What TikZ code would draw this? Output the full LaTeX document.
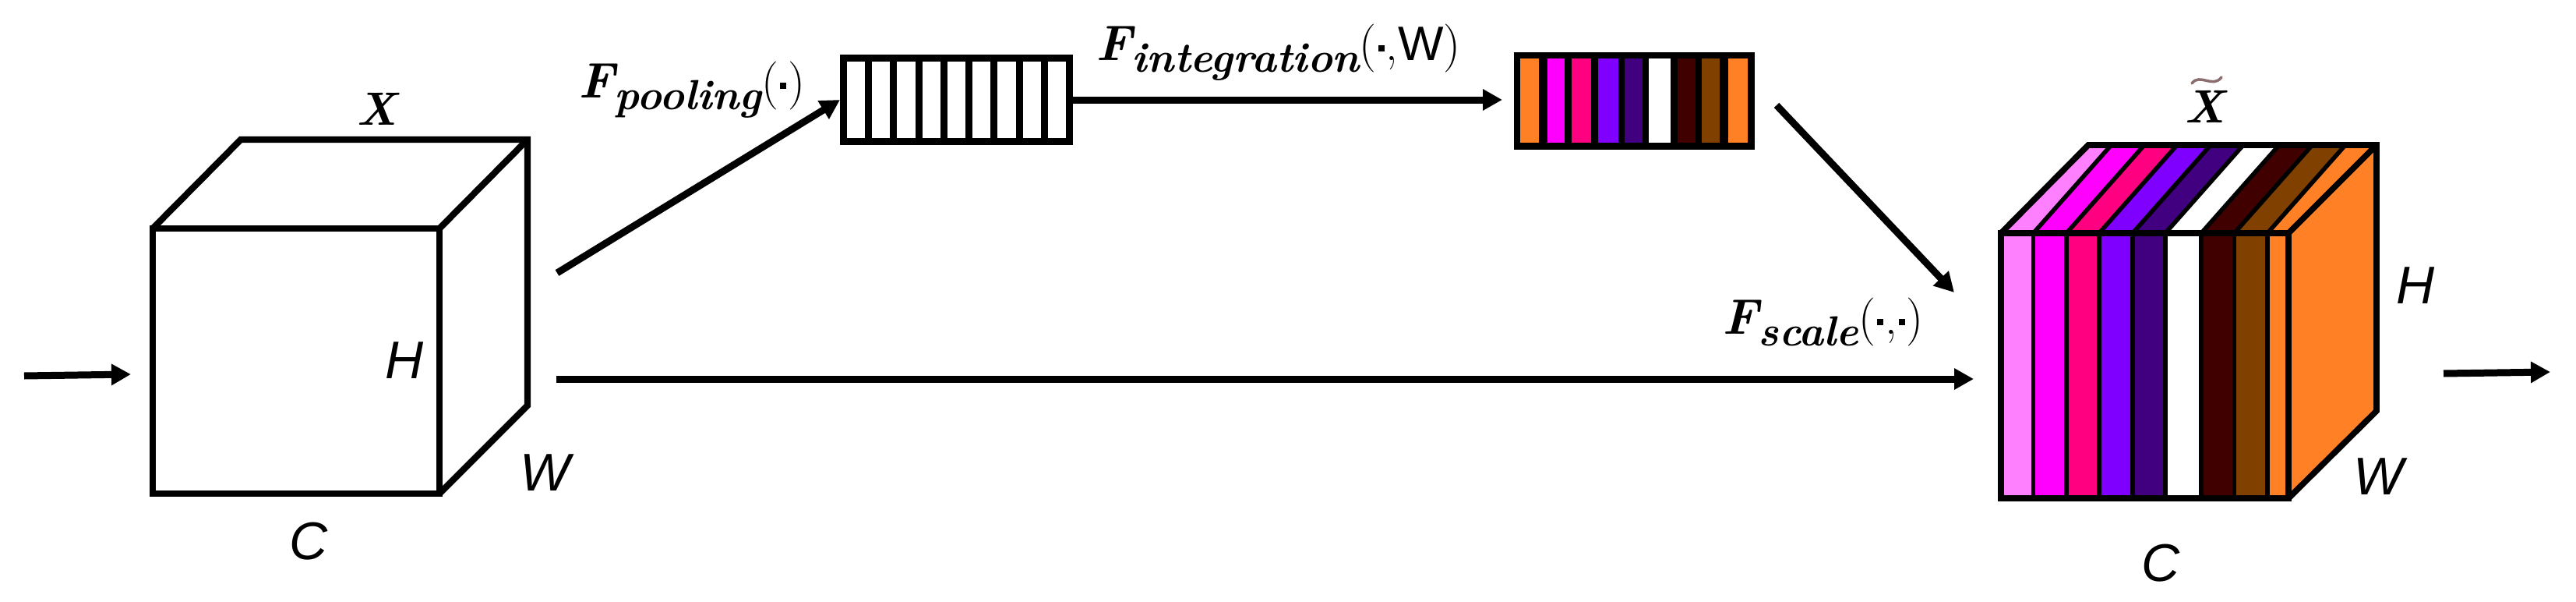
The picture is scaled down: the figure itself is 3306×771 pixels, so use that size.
\documentclass[tikz,border=0pt]{standalone}
\usepackage{fontspec}
\newfontfamily\lsans{Liberation Sans}
\usetikzlibrary{arrows.meta}
\definecolor{corange}{HTML}{FF8025}
\definecolor{cmag}{HTML}{FF00FF}
\definecolor{cpink}{HTML}{FF0080}
\definecolor{cviol}{HTML}{8000FF}
\definecolor{cindig}{HTML}{400080}
\definecolor{cdred}{HTML}{400000}
\definecolor{cbrown}{HTML}{804000}
\definecolor{clpink}{HTML}{FF80FF}
\definecolor{tildec}{HTML}{8C6E6E}
\newcommand{\Fbig}{\fontsize{62}{62}\selectfont}
\newcommand{\Fsml}{\fontsize{54}{54}\selectfont}
\newcommand{\Flabel}[2]{{\fontsize{64}{64}\selectfont\bfseries\itshape F}\raisebox{-15pt}{\Fsml\bfseries\itshape #1}{\Fbig(#2)}}
\newcommand{\cdotb}{\kern2pt\raisebox{11pt}{\rule{8pt}{8pt}}\kern2pt}
\tikzset{
  cubeA/.style={line width=8.3pt, line join=miter},
  cubeB/.style={line width=7.7pt, line join=miter},
  sepB/.style={line width=5.5pt},
  arr/.style={line width=9pt, -{Triangle[length=25pt,width=26pt]}},
  dimlab/.style={font=\lsans\itshape\fontsize{68}{68}\selectfont, inner sep=0},
  xlab/.style={font=\bfseries\itshape\fontsize{60}{60}\selectfont, inner sep=0},
  flab/.style={inner sep=0, anchor=base west},
  tildestroke/.style={draw=tildec, line width=3.5pt, line cap=round},
}
\begin{document}
\begin{tikzpicture}[x=1pt,y=-1pt]
\useasboundingbox (0,0) rectangle (3306,771);

% ---------- input cube X ----------
\draw[cubeA] (196,293) rectangle (564,633);
\draw[cubeA] (196,293) -- (309,179) -- (677,179) -- (677,520) -- (564,633);
\draw[cubeA] (564,293) -- (677,179);
\node[xlab, anchor=base] (xl) at (483,160) {X};
\node[dimlab] (hl) at (519,462) {H};
\node[dimlab] (wl) at (700,606) {W};
\node[dimlab] (cl) at (396,694) {C};

% ---------- pooling vector ----------
\node[draw, line width=9pt, minimum width=290pt, minimum height=107pt, inner sep=0, fill=white] (pool) at (1227.5,128) {};
\foreach \i in {1,...,8} \draw[line width=9pt] ({1082.5+\i*32.22},74.5) -- ++(0,107);

% ---------- colored weight vector ----------
\node[fill=black, minimum width=309pt, minimum height=125pt, inner sep=0, outer sep=0] (cbox) at (2097.5,129.5) {};
\foreach \l/\r/\c in {1951/1975/corange, 1986/2008/cmag, 2017/2042/cpink, 2051/2077/cviol, 2085/2108/cindig, 2116/2144/white, 2153/2176/cdred, 2184/2207/cbrown, 2218/2243/corange}
  \fill[\c] (\l,75) rectangle (\r,183);

% ---------- output cube X~ ----------
\fill[corange] (2937,299) -- (3050,186) -- (3050,527) -- (2937,639) -- cycle;
\foreach \a/\b/\ta/\tb/\c in {2568/2609.5/2680/2709.5/clpink, 2609.5/2652/2709.5/2752/cmag, 2652/2694/2752/2794/cpink, 2694/2737/2794/2837/cviol, 2737/2779/2837/2879/cindig, 2779/2825/2879/2925/white, 2825/2867.5/2925/2967.5/cdred, 2867.5/2910/2967.5/3010/cbrown, 2910/2937/3010/3050/corange}
{
  \fill[\c] (\a,299) -- (\ta,186) -- (\tb,186) -- (\b,299) -- cycle;
  \fill[\c] (\a,299) rectangle (\b,639);
}
\foreach \x in {2609.5,2652,2694,2737,2779,2825,2867.5,2910}
{
  \draw[sepB] (\x,299) -- (\x,639);
  \draw[sepB] (\x,299) -- ({\x+100},186);
}
\draw[cubeB] (2568,299) rectangle (2937,639);
\draw[cubeB] (2568,299) -- (2680,186) -- (3050,186) -- (3050,527) -- (2937,639);
\draw[cubeB] (2937,299) -- (3050,186);
\node[xlab, anchor=base] (xr) at (2829,157) {X};
\coordinate (tl) at (2813,107);
\coordinate (tr) at (2851,99);
\draw[tildestroke] (tl) .. controls (2823,93) and (2840,114) .. (tr);
\node[dimlab] (hr) at (3100,366) {H};
\node[dimlab] (wr) at (3053,611) {W};
\node[dimlab] (cr) at (2773,722) {C};

% ---------- operator labels ----------
\node[flab] (fpool) at (742,125) {\Flabel{pooling}{\cdotb}};
\node[flab] (fint) at (1406,77) {\Flabel{integration}{\cdotb,{\lsans W}}};
\node[flab] (fscale) at (2210,428) {\Flabel{scale}{\cdotb,\cdotb}};

% ---------- connectors ----------
\coordinate (inS) at (31,482);
\coordinate (inE) at (168,480);
\coordinate (pS) at (715,350);
\coordinate (mS) at (714,486);
\coordinate (mE) at (2533,486);
\coordinate (iE) at (1928,128);
\coordinate (dS) at (2280,135);
\coordinate (dE) at (2508,375);
\coordinate (oS) at (3136,479);
\coordinate (oE) at (3273,477);
\draw[arr] (inS) -- (inE);
\draw[arr] (pS) -- (pool.west);
\draw[arr] (mS) -- (mE);
\draw[arr] (pool.east) -- (iE);
\draw[arr] (dS) -- (dE);
\draw[arr] (oS) -- (oE);
\end{tikzpicture}
\end{document}
